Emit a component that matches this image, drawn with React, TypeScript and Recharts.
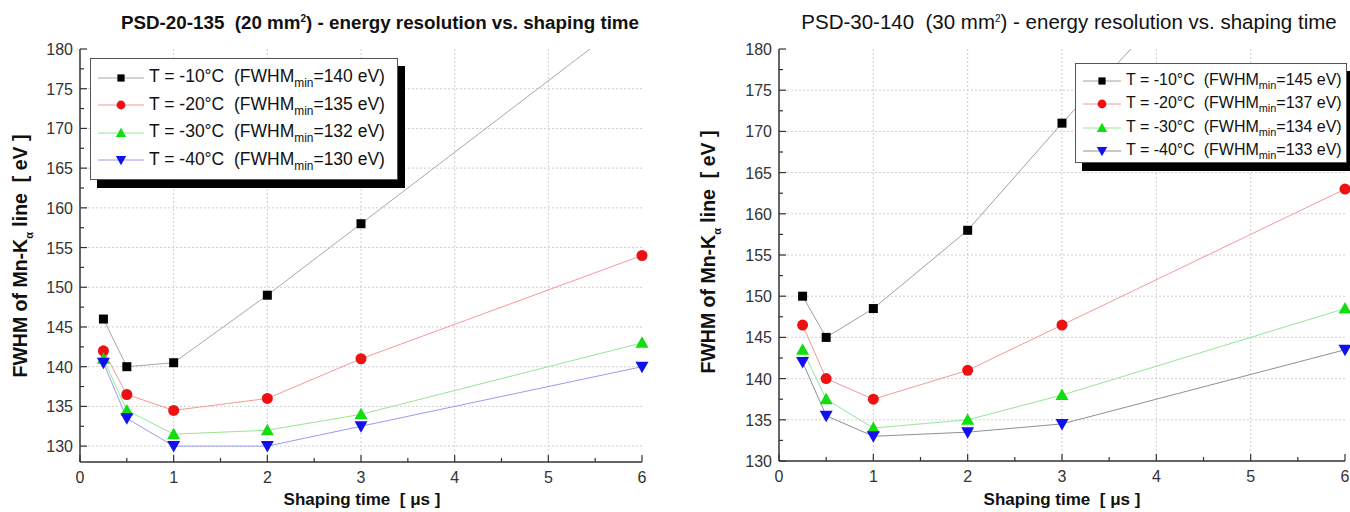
import React from 'react';
import { LineChart, Line, XAxis, YAxis, CartesianGrid, Legend } from 'recharts';

// shaping time [us]
const shapingTimes = [0.25, 0.5, 1, 2, 3, 6];

// PSD-20-135, FWHM [eV]
const psd20m10 = [146, 140, 140.5, 149, 158, 185];
const psd20m20 = [142, 136.5, 134.5, 136, 141, 154];
const psd20m30 = [141, 134.5, 131.5, 132, 134, 143];
const psd20m40 = [140.5, 133.5, 130, 130, 132.5, 140];

// PSD-30-140, FWHM [eV]
const psd30m10 = [150, 145, 148.5, 158, 171, 208];
const psd30m20 = [146.5, 140, 137.5, 141, 146.5, 163];
const psd30m30 = [143.5, 137.5, 134, 135, 138, 148.5];
const psd30m40 = [142, 135.5, 133, 133.5, 134.5, 143.5];

const temperatures = ['-10', '-20', '-30', '-40'];
const psd20Min = [140, 135, 132, 130];
const psd30Min = [145, 137, 134, 133];

const xTicks = [0, 0.5, 1, 1.5, 2, 2.5, 3, 3.5, 4, 4.5, 5, 5.5, 6];
const xGrid = [1, 2, 3, 4, 5];
const yTicks = [130, 132.5, 135, 137.5, 140, 142.5, 145, 147.5, 150, 152.5, 155, 157.5, 160, 162.5, 165, 167.5, 170, 172.5, 175, 177.5, 180];
const yGrid = [130, 135, 140, 145, 150, 155, 160, 165, 170, 175];

const FONT = '"Liberation Sans", Arial, sans-serif';
const AXIS = '#333';

type Shape = 'square' | 'circle' | 'up' | 'down';
const shapes: Shape[] = ['square', 'circle', 'up', 'down'];
const markerColors = ['#000000', '#ee1111', '#11dd11', '#1111ee'];

function Marker({ cx, cy, shape, color, s = 1 }: { cx?: number; cy?: number; shape: Shape; color: string; s?: number }) {
  if (cx == null || cy == null) return null;
  if (shape === 'square') return <rect x={cx - 4.5 * s} y={cy - 4.5 * s} width={9 * s} height={9 * s} fill={color} />;
  if (shape === 'circle') return <circle cx={cx} cy={cy} r={5.5 * s} fill={color} />;
  if (shape === 'up')
    return <polygon points={`${cx},${cy - 6.5 * s} ${cx + 6.5 * s},${cy + 5 * s} ${cx - 6.5 * s},${cy + 5 * s}`} fill={color} />;
  return <polygon points={`${cx},${cy + 6.5 * s} ${cx + 6.5 * s},${cy - 5 * s} ${cx - 6.5 * s},${cy - 5 * s}`} fill={color} />;
}

const tickText = { fontSize: 16, fill: '#333', fontFamily: FONT };

function BottomTick(props: any) {
  const { x, y, payload } = props;
  const v = payload.value;
  const major = Number.isInteger(v);
  return (
    <g>
      <line x1={x} x2={x} y1={y} y2={y - (major ? 7 : 4)} stroke={AXIS} strokeWidth={1.2} />
      {major && (
        <text x={x} y={y + 21} textAnchor="middle" {...tickText}>
          {v}
        </text>
      )}
    </g>
  );
}

function TopTick(props: any) {
  const { x, y, payload } = props;
  const major = Number.isInteger(payload.value);
  return <line x1={x} x2={x} y1={y} y2={y + (major ? 7 : 4)} stroke={AXIS} strokeWidth={1.2} />;
}

function LeftTick(props: any) {
  const { x, y, payload } = props;
  const v = payload.value;
  const major = v % 5 === 0;
  return (
    <g>
      <line x1={x} x2={x + (major ? 7 : 4)} y1={y} y2={y} stroke={AXIS} strokeWidth={1.2} />
      {major && (
        <text x={x - 7} y={y + 6} textAnchor="end" {...tickText}>
          {v}
        </text>
      )}
    </g>
  );
}

function RightTick(props: any) {
  const { x, y, payload } = props;
  const major = payload.value % 5 === 0;
  return <line x1={x} x2={x - (major ? 7 : 4)} y1={y} y2={y} stroke={AXIS} strokeWidth={1.2} />;
}

type ChartProps = {
  left: number;
  title: string;
  area: string;
  titleBold: boolean;
  titleSize: number;
  titleX: number;
  series: number[][];
  mins: number[];
  lineColors: string[];
  yMin: number;
  yAxisWidth: number;
  rightMargin: number;
  bottomHeight: number;
  yLabelX: number;
  yLabelY: number;
  xLabelX: number;
  legend: { left: number; top: number; width: number; height: number; font: number; row: number; icon: number };
};

function PsdChart(p: ChartProps) {
  const data = shapingTimes.map((t, i) => {
    const row: Record<string, number> = { t };
    p.series.forEach((s, k) => (row['s' + k] = s[i]));
    return row;
  });
  const lg = p.legend;

  const legendContent = () => (
    <div
      style={{
        boxSizing: 'border-box',
        width: lg.width,
        height: lg.height,
        border: '1px solid #555',
        background: '#fff',
        boxShadow: '7px 8px 0 #000',
        fontFamily: FONT,
        fontSize: lg.font,
        color: '#111',
        padding: '5px 0 0 7px',
      }}
    >
      {temperatures.map((tmp, k) => (
        <div key={k} style={{ display: 'flex', alignItems: 'center', height: lg.row, whiteSpace: 'pre' }}>
          <svg width={lg.icon} height={16} style={{ marginRight: 5 }}>
            <line x1={0} x2={lg.icon} y1={8} y2={8} stroke={p.lineColors[k]} strokeWidth={1} />
            <Marker cx={lg.icon / 2} cy={8} shape={shapes[k]} color={markerColors[k]} s={0.8} />
          </svg>
          <span>
            {`T = ${tmp}°C  (FWHM`}
            <sub style={{ fontSize: lg.font * 0.68 }}>min</sub>
            {`=${p.mins[k]} eV)`}
          </span>
        </div>
      ))}
    </div>
  );

  return (
    <div style={{ position: 'absolute', left: p.left, top: 0, width: 670, height: 512 }}>
      <LineChart
        width={670}
        height={512}
        data={data}
        margin={{ top: 49, right: p.rightMargin, bottom: 0, left: 0 }}
      >
        <CartesianGrid
          xAxisId="b"
          yAxisId="l"
          horizontalValues={yGrid}
          verticalValues={xGrid}
          stroke="#cfcfcf"
          strokeDasharray="2 2"
        />
        <XAxis
          xAxisId="b"
          dataKey="t"
          type="number"
          domain={[0, 6]}
          ticks={xTicks}
          interval={0}
          height={p.bottomHeight}
          tickSize={0}
          tickMargin={0}
          tickLine={false}
          tick={<BottomTick />}
          axisLine={{ stroke: AXIS, strokeWidth: 1.5 }}
        />
        <XAxis
          xAxisId="t"
          orientation="top"
          type="number"
          domain={[0, 6]}
          ticks={xTicks}
          interval={0}
          height={0}
          tickSize={0}
          tickMargin={0}
          tickLine={false}
          tick={<TopTick />}
          axisLine={{ stroke: AXIS, strokeWidth: 1.5 }}
        />
        <YAxis
          yAxisId="l"
          type="number"
          domain={[p.yMin, 180]}
          allowDataOverflow
          ticks={yTicks}
          interval={0}
          width={p.yAxisWidth}
          tickSize={0}
          tickMargin={0}
          tickLine={false}
          tick={<LeftTick />}
          axisLine={{ stroke: AXIS, strokeWidth: 1.5 }}
        />
        <YAxis
          yAxisId="r"
          orientation="right"
          type="number"
          domain={[p.yMin, 180]}
          allowDataOverflow
          ticks={yTicks}
          interval={0}
          width={0}
          tickSize={0}
          tickMargin={0}
          tickLine={false}
          tick={<RightTick />}
          axisLine={{ stroke: AXIS, strokeWidth: 1.5 }}
        />
        <Legend
          layout="horizontal"
          verticalAlign="middle"
          align="center"
          content={legendContent}
          wrapperStyle={{ left: lg.left, top: lg.top, width: lg.width + 10, height: lg.height + 10 }}
        />
        {p.series.map((_, k) => (
          <Line
            key={k}
            xAxisId="b"
            yAxisId="l"
            dataKey={'s' + k}
            stroke={p.lineColors[k]}
            strokeWidth={1}
            isAnimationActive={false}
            activeDot={false}
            dot={(d: any) => (
              <Marker key={`d${k}-${d.index}`} cx={d.cx} cy={d.cy} shape={shapes[k]} color={markerColors[k]} />
            )}
          />
        ))}
      </LineChart>
      <svg
        width={670}
        height={512}
        style={{ position: 'absolute', left: 0, top: 0, pointerEvents: 'none', fontFamily: FONT }}
      >
        <text
          x={p.titleX}
          y={29}
          textAnchor="middle"
          fontSize={p.titleSize}
          fontWeight={p.titleBold ? 'bold' : 'normal'}
          fill="#111"
          style={{ whiteSpace: 'pre' }}
        >
          {`${p.title}  (${p.area} mm`}
          <tspan dy={-7} fontSize={10}>
            2
          </tspan>
          <tspan dy={7}>{') - energy resolution vs. shaping time'}</tspan>
        </text>
        <text
          transform={`translate(${p.yLabelX}, ${p.yLabelY}) rotate(-90)`}
          textAnchor="middle"
          fontSize={19.5}
          fontWeight="bold"
          fill="#111"
          style={{ whiteSpace: 'pre' }}
        >
          {'FWHM of Mn-K'}
          <tspan dy={6} fontSize={11}>
            α
          </tspan>
          <tspan dy={-6}>{' line  [ eV ]'}</tspan>
        </text>
        <text
          x={p.xLabelX}
          y={505}
          textAnchor="middle"
          fontSize={17}
          fontWeight="bold"
          fill="#111"
          style={{ whiteSpace: 'pre' }}
        >
          {'Shaping time  [ μs ]'}
        </text>
      </svg>
    </div>
  );
}

export default function App() {
  return (
    <div style={{ position: 'fixed', left: 0, top: 0, width: 1350, height: 512, background: '#fff', overflow: 'hidden' }}>
      <PsdChart
        left={0}
        title="PSD-20-135"
        area="20"
        titleBold
        titleSize={18.8}
        titleX={380}
        series={[psd20m10, psd20m20, psd20m30, psd20m40]}
        mins={psd20Min}
        lineColors={['#a8a8a8', '#f29a9a', '#96e696', '#9a9af0']}
        yMin={128}
        yAxisWidth={80}
        rightMargin={28}
        bottomHeight={50}
        yLabelX={27}
        yLabelY={256}
        xLabelX={362}
        legend={{ left: 90, top: 58, width: 308, height: 122, font: 17.5, row: 27.5, icon: 46 }}
      />
      <PsdChart
        left={680}
        title="PSD-30-140"
        area="30"
        titleBold={false}
        titleSize={20.5}
        titleX={389}
        series={[psd30m10, psd30m20, psd30m30, psd30m40]}
        mins={psd30Min}
        lineColors={['#a0a0a0', '#f29a9a', '#96e696', '#909090']}
        yMin={130}
        yAxisWidth={99}
        rightMargin={5}
        bottomHeight={51}
        yLabelX={35}
        yLabelY={252}
        xLabelX={382}
        legend={{ left: 395, top: 63, width: 272, height: 100, font: 16, row: 23.5, icon: 38 }}
      />
    </div>
  );
}
